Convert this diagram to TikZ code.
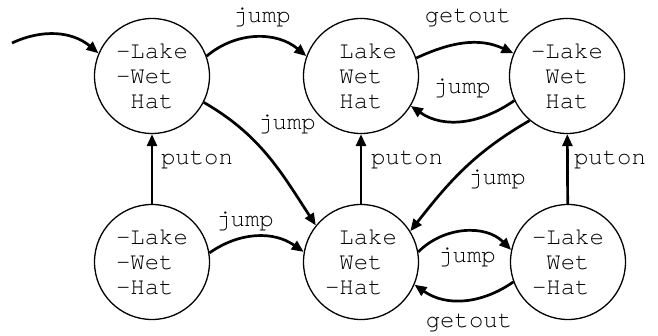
\documentclass[tikz,border=0pt]{standalone}
\usepackage{fontspec}
\setmonofont{TeX Gyre Cursor}
\usetikzlibrary{arrows.meta}
\tikzset{
  state/.style={circle, draw, line width=1.3pt, minimum size=115pt, inner sep=0pt,
                font=\ttfamily\fontsize{24}{25}\selectfont, align=left},
  trans/.style={line width=2.7pt, -{Triangle[length=12pt,width=10pt]}},
  lbl/.style={font=\ttfamily\fontsize{24}{25}\selectfont, anchor=base, inner sep=0pt},
}
% blank sign slot, as wide as a minus
\newcommand{\nosign}{\hphantom{-}}

\begin{document}
\begin{tikzpicture}[x=1pt,y=-1pt]
\useasboundingbox (0,0) rectangle (658,336);

% states
\node[state] (tl) at (152,76)  {-Lake\\-Wet\\\nosign Hat};
\node[state] (tm) at (361,76)  {\nosign Lake\\\nosign Wet\\\nosign Hat};
\node[state] (tr) at (567,76)  {-Lake\\\nosign Wet\\\nosign Hat};
\node[state] (bl) at (152,262) {-Lake\\-Wet\\-Hat};
\node[state] (bm) at (361,262) {\nosign Lake\\\nosign Wet\\-Hat};
\node[state] (br) at (568,262) {-Lake\\\nosign Wet\\-Hat};

% initial arrow
\coordinate (init) at (12,43);
\draw[trans] (init) to[out=25,in=140] (tl.157);

% transitions
\draw[trans] (tl.20)  to[out=40,in=140]   (tm.160);
\draw[trans] (tl.-27) to[out=-30,in=123]  (bm.141);
\draw[trans] (tm.18)  to[out=25,in=155]   (tr.157);
\draw[trans] (tr.205) to[out=-145,in=-35] (tm.-31);
\draw[trans] (tr.230) to[out=210,in=52]   (bm.32);
\draw[trans] (bl) -- (tl);
\draw[trans] (bm) -- (tm);
\draw[trans] (br) -- (tr);
\draw[trans] (bl.9)   to[out=35,in=145]   (bm.170);
\draw[trans] (bm.10)  to[out=45,in=135]   (br.168);
\draw[trans] (br.200) to[out=-145,in=-35] (bm.-23);

% transition labels
\node[lbl] (l1)  at (262,23)  {jump};
\node[lbl] (l2)  at (287,130) {jump};
\node[lbl] (l3)  at (468,23)  {getout};
\node[lbl] (l4)  at (462,94)  {jump};
\node[lbl] (l5)  at (197,165) {puton};
\node[lbl] (l6)  at (407,165) {puton};
\node[lbl] (l7)  at (610,165) {puton};
\node[lbl] (l8)  at (497,185) {jump};
\node[lbl] (l9)  at (245,227) {jump};
\node[lbl] (l10) at (467,263) {jump};
\node[lbl] (l11) at (469,327) {getout};
\end{tikzpicture}
\end{document}
